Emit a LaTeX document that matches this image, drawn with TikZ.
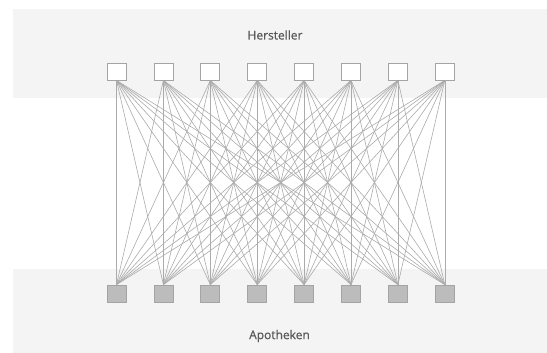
\documentclass[tikz,border=0pt]{standalone}
\usepackage{fontspec}
\setmainfont{Open Sans}
\usepackage{tikz}
\definecolor{bandgray}{HTML}{F4F4F4}
\definecolor{linegray}{HTML}{ABABAB}
\definecolor{boxgray}{HTML}{A4A4A4}
\definecolor{fillgray}{HTML}{BCBCBC}
\definecolor{textgray}{HTML}{595959}
\pgfdeclarelayer{bands}
\pgfdeclarelayer{edges}
\pgfsetlayers{bands,edges,main}
\tikzset{
	hbox/.style={draw=boxgray, fill=white, line width=0.8pt, minimum width=19pt, minimum height=17pt, inner sep=0pt},
	abox/.style={draw=boxgray, fill=fillgray, line width=0.8pt, minimum width=19pt, minimum height=17pt, inner sep=0pt},
	link/.style={draw=linegray, line width=0.6pt},
	title/.style={text=textgray, font=\fontsize{12}{14}\selectfont\addfontfeature{FakeBold=0.6}}
}

\begin{document}
\begin{tikzpicture}[x=1pt,y=-1pt]
		\useasboundingbox (0,0) rectangle (547,353);
		\begin{pgfonlayer}{bands}
		\fill [bandgray] (13,9) rectangle (547,98);
		\fill [bandgray] (13,269) rectangle (547,353);
		\end{pgfonlayer}
		\node [title] (H) at (275,35) {Hersteller};
		\node [title] (A) at (279.5,336) {Apotheken};
		% manufacturers (top) and pharmacies (bottom)
		\foreach \i in {0,...,7}{
			\node [hbox] (t\i) at ({116.5+46.9*\i},71.5) {};
			\node [abox] (b\i) at ({116.5+46.9*\i},293.5) {};
		}
		% every manufacturer supplies every pharmacy
		\begin{pgfonlayer}{edges}
		\foreach \i in {0,...,7}
			\foreach \j in {0,...,7}
				\draw [link] (t\i.south) -- (b\j.north);
		\end{pgfonlayer}
	\end{tikzpicture}
\end{document}
